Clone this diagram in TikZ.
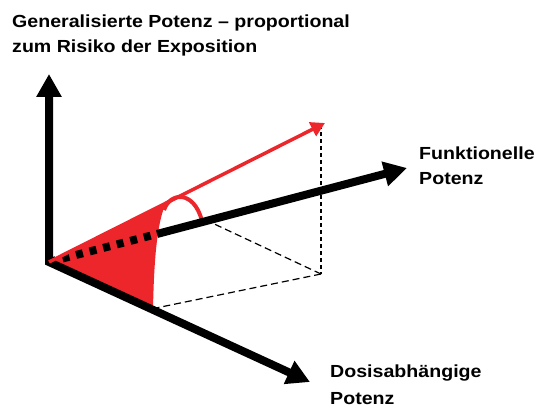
\documentclass[tikz,border=0pt]{standalone}
\usepackage{fontspec}
\setmainfont{Liberation Sans}
\newfontfamily\lblfont[FakeStretch=1.12]{Liberation Sans}
\usetikzlibrary{arrows.meta}
\definecolor{vred}{RGB}{236,38,43}
\tikzset{
  axis/.style={line width=8pt, -{Triangle[length=23pt,width=24pt]}},
  vecarrow/.style={vred, line width=3.5pt, -{Triangle[length=14pt,width=15pt]}},
  helper/.style={line width=1.2pt, dash pattern=on 7pt off 4pt},
  lbl/.style={font=\lblfont\bfseries\fontsize{17.5}{25}\selectfont, align=left, inner sep=0pt, anchor=north west}
}
\begin{document}
\begin{tikzpicture}[x=1pt,y=-1pt]
\useasboundingbox (0,0) rectangle (540,409);
% key points
\coordinate (O) at (49,262);
\coordinate (V) at (49,74);
\coordinate (D) at (310,382);
\coordinate (F) at (407,168);
\coordinate (R) at (325,123);
\coordinate (P) at (321,274);
\coordinate (PF) at (210,222);
\coordinate (PD) at (156,308);
\coordinate (FS) at (157,234);
\coordinate (AS) at (166,203);
\coordinate (AB) at (153,309);
\coordinate (A1) at (164,210);
\coordinate (A2) at (202,221);
% red filled wedge
\fill[vred] (O) -- (AS) .. controls (157,222) and (154,260) .. (AB) -- cycle;
% angle arc
\draw[vred, line width=4pt] (A1) .. controls (170,192) and (194,190) .. (A2);
% helper dashed lines
\draw[helper] (P) -- (PF);
\draw[helper] (P) -- (PD);
\draw[line width=1.2pt, dash pattern=on 4pt off 3pt] (R) ++(-4,2) coordinate (RB) (RB) -- (P);
% axes
\draw[axis, {Triangle[length=23pt,width=24pt]}-{Triangle[length=23pt,width=24pt]}, line join=miter] (V) -- (O) -- (D);
\draw[line width=8pt, dash pattern=on 7pt off 7pt] (O) -- (FS);
\draw[axis] (FS) -- (F);
% red vector
\draw[vecarrow] (O) -- (R);
% labels
\node[lbl] (title) at (12,15) {Generalisierte Potenz – proportional\\zum Risiko der Exposition};
\node[lbl] (func) at (419,147) {Funktionelle\\Potenz};
\node[lbl, font=\lblfont\bfseries\fontsize{17.5}{27}\selectfont] (dose) at (330,365) {Dosisabhängige\\Potenz};
\end{tikzpicture}
\end{document}
